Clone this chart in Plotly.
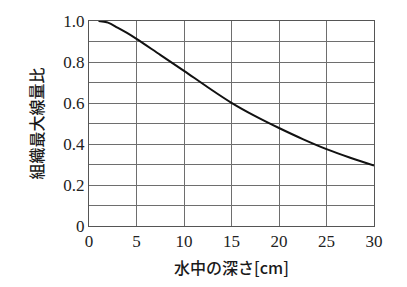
import plotly.graph_objects as go

depth = [1, 2, 3, 4, 5, 7.5, 10, 12.5, 15, 17.5, 20, 22.5, 25, 27.5, 30]
ratio = [1.0, 0.992, 0.968, 0.942, 0.913, 0.835, 0.757, 0.677, 0.601, 0.536, 0.478, 0.424, 0.375, 0.333, 0.295]

x_ticks = [0, 5, 10, 15, 20, 25, 30]
x_labels = ["0", "5", "10", "15", "20", "25", "30"]
y_ticks = [0, 0.1, 0.2, 0.3, 0.4, 0.5, 0.6, 0.7, 0.8, 0.9, 1.0]
y_labels = ["0", "", "0.2", "", "0.4", "", "0.6", "", "0.8", "", "1.0"]

fig = go.Figure()
fig.add_trace(go.Scatter(x=depth, y=ratio, mode="lines",
                         line=dict(color="#111", width=2, shape="spline"),
                         showlegend=False))

title_font = dict(family="Noto Sans CJK JP", size=16, color="#1a1a1a", weight=500)
tick_font = dict(family="'Liberation Serif', 'DejaVu Serif', serif", size=17, color="#222")

fig.update_layout(
    width=407, height=287,
    margin=dict(l=89, r=33, t=19, b=59),
    paper_bgcolor="white", plot_bgcolor="white",
    font=tick_font,
    xaxis=dict(range=[0, 30], tickvals=x_ticks, ticktext=x_labels, tickfont=tick_font,
               showgrid=True, gridcolor="#6e6e6e", gridwidth=1,
               showline=True, linecolor="#555", linewidth=1, mirror=True,
               zeroline=False, ticks="", ticklen=0,
               title=dict(text="水中の深さ[cm]", font=title_font, standoff=12)),
    yaxis=dict(range=[0, 1.0], tickvals=y_ticks, ticktext=y_labels, tickfont=tick_font,
               showgrid=True, gridcolor="#6e6e6e", gridwidth=1,
               showline=True, linecolor="#555", linewidth=1, mirror=True,
               zeroline=False, ticks="", ticklen=0,
               title=dict(text="組織最大線量比", font=title_font, standoff=15)),
)

fig.write_html("out.html")
